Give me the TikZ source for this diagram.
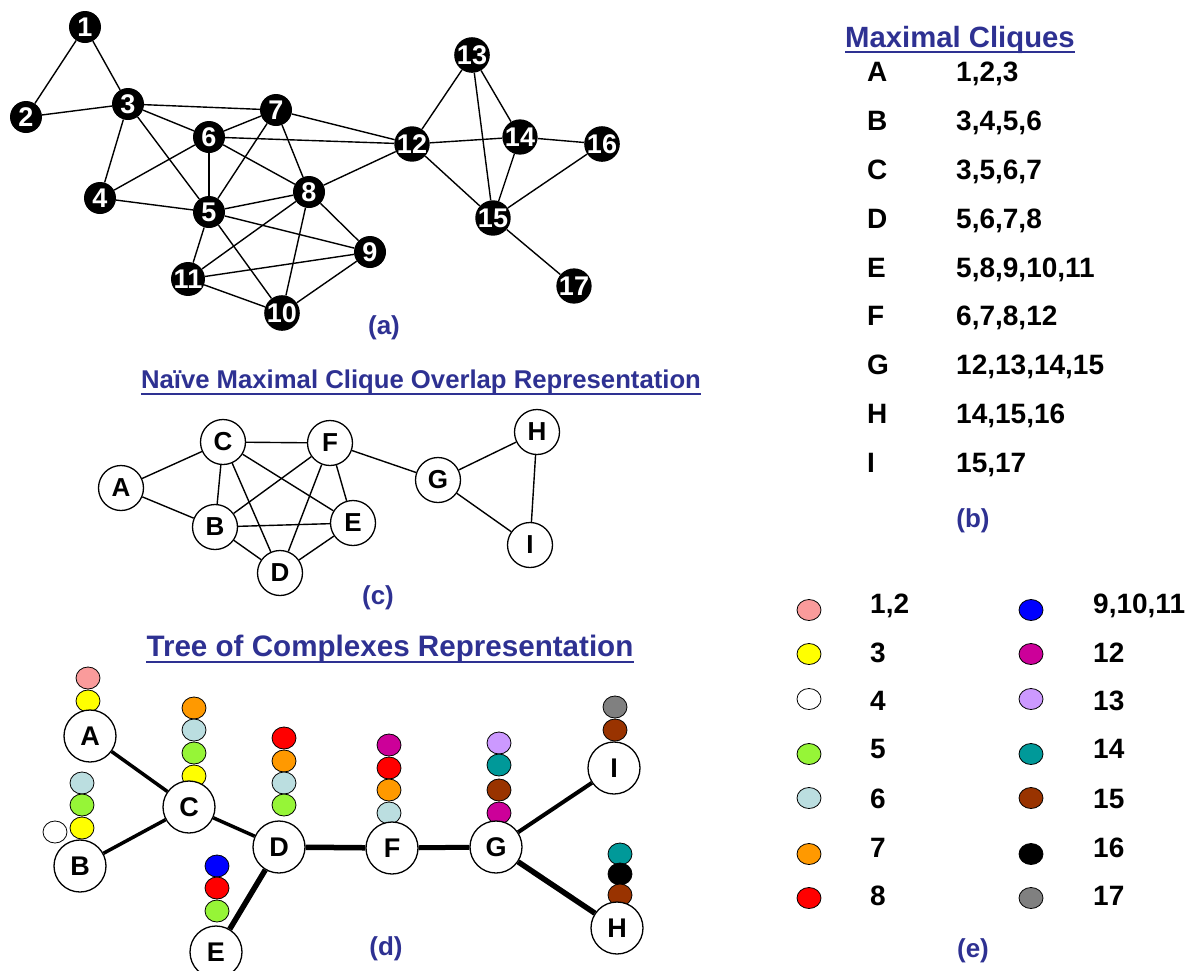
\documentclass[tikz,border=0pt]{standalone}
\usepackage{fontspec}
\setmainfont{Liberation Sans}
\usetikzlibrary{calc}
\definecolor{navy}{RGB}{46,49,146}
\definecolor{cpink}{RGB}{250,155,155}
\definecolor{cyellow}{RGB}{255,255,0}
\definecolor{cgreen}{RGB}{150,245,55}
\definecolor{cltblue}{RGB}{187,222,224}
\definecolor{corange}{RGB}{255,153,0}
\definecolor{cred}{RGB}{255,0,0}
\definecolor{cblue}{RGB}{0,0,255}
\definecolor{cmag}{RGB}{204,0,153}
\definecolor{clav}{RGB}{204,153,255}
\definecolor{cteal}{RGB}{0,153,153}
\definecolor{cbrown}{RGB}{153,51,0}
\definecolor{cgray}{RGB}{128,128,128}
\newcommand\setfs[1]{\fontsize{#1}{#1}\selectfont}
\newcommand\dotat[3]{\filldraw[fill=#1,draw=black,line width=0.8pt] (#2,#3) ellipse [x radius=12,y radius=11];}
\begin{document}
\begin{tikzpicture}[x=1pt,y=-1pt,
  gnode/.style={circle,fill=black,minimum size=32pt,inner sep=0pt,text=white,font=\setfs{27}\bfseries},
  cnode/.style={circle,draw=black,fill=white,line width=1.3pt,minimum size=45pt,inner sep=0pt,font=\setfs{26}\bfseries},
  tnode/.style={circle,draw=black,fill=white,line width=1.3pt,minimum size=52pt,inner sep=0pt,font=\setfs{27}\bfseries},
  gedge/.style={line width=1.4pt},
  ttitle/.style={text=navy,font=\setfs{#1}\bfseries,anchor=base,inner sep=0pt},
  sublabel/.style={text=navy,font=\setfs{26}\bfseries,inner sep=0pt},
  listtext/.style={font=\setfs{28}\bfseries,anchor=base west,inner sep=0pt},
  uline/.style={navy,line width=1.5pt}
]
\useasboundingbox (0,0) rectangle (1189,970);

% ---------- (a) graph ----------
\node[gnode] (n1) at (85,27) {1};
\node[gnode] (n2) at (26,117) {2};
\node[gnode] (n3) at (128,104) {3};
\node[gnode] (n4) at (100,198) {4};
\node[gnode] (n5) at (209,212) {5};
\node[gnode] (n6) at (209,137) {6};
\node[gnode] (n7) at (276,110) {7};
\node[gnode] (n8) at (309,192) {8};
\node[gnode] (n9) at (370,252) {9};
\node[gnode] (n10) at (282,313) {10};
\node[gnode] (n11) at (188,279) {11};
\node[gnode] (n12) at (412,144) {12};
\node[gnode] (n13) at (472,55) {13};
\node[gnode] (n14) at (520,137) {14};
\node[gnode] (n15) at (493,218) {15};
\node[gnode] (n16) at (602,144) {16};
\node[gnode] (n17) at (574,286) {17};
\foreach \a/\b in {1/2,1/3,2/3,3/7,3/6,3/4,3/5,7/6,7/5,7/8,7/12,6/12,6/4,6/5,6/8,4/5,5/8,5/11,5/10,5/9,8/12,8/11,8/10,8/9,11/9,11/10,10/9,12/13,12/14,12/15,13/14,13/15,14/15,14/16,16/15,15/17}
  \draw[gedge] (n\a) -- (n\b);
\node[sublabel] (la) at (384,328) {(a)};

% ---------- (b) list ----------
\node[ttitle=29.3] (tb) at (960,47) {Maximal Cliques};
\draw[uline] ($(tb.base west)+(0,5)$) -- ($(tb.base east)+(0,5)$);
\foreach \l/\v/\y in {A/{1,2,3}/81,B/{3,4,5,6}/130,C/{3,5,6,7}/179,D/{5,6,7,8}/228,E/{5,8,9,10,11}/277,F/{6,7,8,12}/325,G/{12,13,14,15}/374,H/{14,15,16}/423,I/{15,17}/472}{
  \node[listtext] (bl\l) at (867,\y) {\l};
  \node[listtext] (bv\l) at (956,\y) {\v};
}
\node[sublabel] (lb) at (973,521) {(b)};

% ---------- (c) overlap graph ----------
\node[ttitle=25.7] (tc) at (421,388) {Naïve Maximal Clique Overlap Representation};
\draw[uline] ($(tc.base west)+(0,6)$) -- ($(tc.base east)+(0,6)$);
\node[cnode] (cA) at (121,488) {A};
\node[cnode] (cC) at (223,442) {C};
\node[cnode] (cF) at (330,443) {F};
\node[cnode] (cB) at (215,527) {B};
\node[cnode] (cE) at (353,523) {E};
\node[cnode] (cD) at (280,573) {D};
\node[cnode] (cG) at (438,480) {G};
\node[cnode] (cH) at (537,432) {H};
\node[cnode] (cI) at (530,545) {I};
\foreach \a/\b in {A/C,A/B,C/F,C/B,C/D,C/E,F/B,F/D,F/E,F/G,B/E,B/D,D/E,G/H,G/I,H/I}
  \draw[gedge] (c\a) -- (c\b);
\node[sublabel] (lc) at (378,598) {(c)};

% ---------- (d) tree of complexes ----------
\node[ttitle=29.6] (td) at (390,656) {Tree of Complexes Representation};
\draw[uline] ($(td.base west)+(0,6)$) -- ($(td.base east)+(0,6)$);
% dots
\dotat{cpink}{88}{678} \dotat{cyellow}{88}{701}
\dotat{corange}{194}{708} \dotat{cltblue}{194}{730} \dotat{cgreen}{194}{753} \dotat{cyellow}{194}{776}
\dotat{cltblue}{82}{783} \dotat{cgreen}{82}{805} \dotat{cyellow}{82}{828}
\dotat{white}{55}{832}
\dotat{cred}{284}{738} \dotat{corange}{284}{761} \dotat{cltblue}{284}{783} \dotat{cgreen}{284}{805}
\dotat{cblue}{217}{866} \dotat{cred}{217}{888} \dotat{cgreen}{217}{911}
\dotat{cmag}{389}{745} \dotat{cred}{389}{768} \dotat{corange}{389}{790} \dotat{cltblue}{389}{813}
\dotat{clav}{499}{743} \dotat{cteal}{499}{765} \dotat{cbrown}{499}{790} \dotat{cmag}{499}{813}
\dotat{cgray}{615}{707} \dotat{cbrown}{615}{730}
\dotat{cteal}{620}{854} \dotat{black}{620}{874} \dotat{cbrown}{620}{895}
% nodes
\node[tnode] (dA) at (90,736) {A};
\node[tnode] (dC) at (189,807) {C};
\node[tnode] (dB) at (80,866) {B};
\node[tnode] (dD) at (279,847) {D};
\node[tnode] (dE) at (216,952) {E};
\node[tnode] (dF) at (392,848) {F};
\node[tnode] (dG) at (496,847) {G};
\node[tnode] (dI) at (614,768) {I};
\node[tnode] (dH) at (617,928) {H};
\foreach \a/\b/\w in {A/C/3.5,B/C/3.5,C/D/3.5,D/E/5.5,D/F/5.5,F/G/5,G/I/4,G/H/5.5}
  \draw[line width=\w pt] (d\a) -- (d\b);
\node[sublabel] (ld) at (386,949) {(d)};

% ---------- (e) legend ----------
\foreach \c/\y/\t/\b in {cpink/610/{1,2}/613, cyellow/654/3/662, white/699/4/710, cgreen/754/5/758, cltblue/798/6/808, corange/854/7/857, cred/898/8/905}{
  \filldraw[fill=\c,draw=black,line width=0.8pt] (809,\y) ellipse [x radius=12,y radius=10.5];
  \node[listtext] at (870,\b) {\t};
}
\foreach \c/\y/\t/\b in {cblue/610/{9,10,11}/613, cmag/654/12/662, clav/699/13/710, cteal/754/14/758, cbrown/798/15/808, black/854/16/857, cgray/898/17/905}{
  \filldraw[fill=\c,draw=black,line width=0.8pt] (1031,\y) ellipse [x radius=12,y radius=10.5];
  \node[listtext] at (1093,\b) {\t};
}
\node[sublabel] (le) at (973,951) {(e)};
\end{tikzpicture}
\end{document}
